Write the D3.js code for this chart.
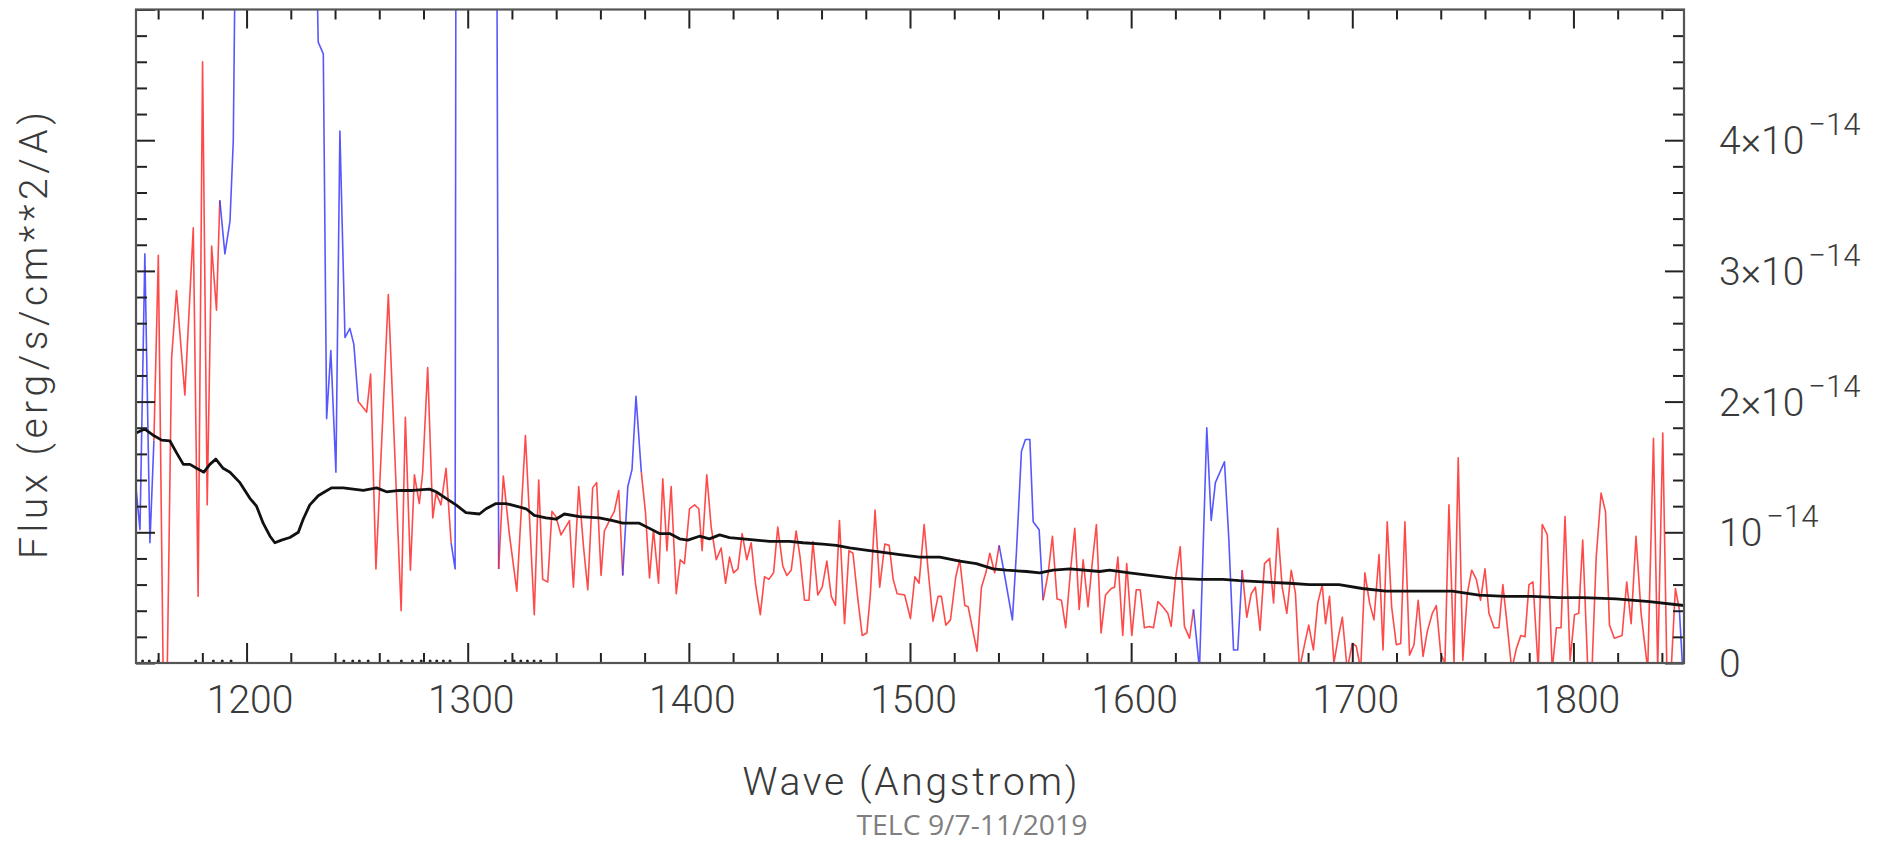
<!DOCTYPE html>
<html>
<head>
<meta charset="utf-8">
<script src="https://cdn.jsdelivr.net/npm/d3@7/dist/d3.min.js"></script>
<style>
  html, body { margin: 0; padding: 0; background: #fff; }
  svg { display: block; }
</style>
</head>
<body>
<svg id="chart" width="1886" height="845"></svg>
<script>
// ---------------- DATA (flux values in units of 1e-15 erg/s/cm^2/A) ----------------
const specWave = [
1150.0,1151.8,1154.0,1156.3,1158.1,1160.1,1162.3,1164.1,1166.1,1168.3,1172.1,1175.9,1178.1,1180.1,1182.2,1184.2,1186.4,1187.9,
1190.2,1192.5,1194.0,1195.2,1205.0,1220.0,1231.0,1232.4,1234.7,1236.2,1238.1,1240.4,1242.2,1244.5,1246.7,1248.5,1250.5,1254.3,
1256.1,1258.5,1264.1,1269.9,1271.8,1274.1,1275.9,1278.1,1279.6,1281.9,1284.2,1285.7,1287.9,1290.2,1292.5,1294.3,1294.7,1300.0,
1308.0,1313.1,1314.0,1316.1,1318.8,1322.2,1326.1,1328.3,1330.1,1332.1,1333.9,1336.2,1338.1,1339.9,1342.2,1346.0,1347.8,1350.2,
1352.3,1354.3,1356.5,1358.3,1360.3,1361.8,1364.1,1366.3,1368.3,1370.1,1372.4,1374.3,1376.1,1378.5,1380.4,1382.2,1384.0,1386.3,
1388.2,1390.1,1392.0,1394.3,1396.1,1398.0,1400.3,1402.6,1404.5,1406.0,1408.1,1410.1,1412.4,1414.6,1416.6,1418.4,1420.2,1422.2,
1424.1,1426.2,1428.2,1430.1,1432.3,1434.2,1436.2,1438.3,1440.2,1442.5,1444.3,1446.3,1448.5,1450.3,1452.3,1454.3,1456.1,1458.3,
1460.3,1462.4,1464.4,1466.3,1468.1,1470.4,1472.4,1474.2,1476.4,1478.4,1480.5,1482.1,1484.2,1486.3,1488.6,1490.6,1492.4,1494.2,
1497.6,1500.2,1502.2,1504.1,1506.4,1508.2,1510.4,1512.7,1514.2,1516.2,1518.3,1520.7,1522.5,1524.8,1526.3,1530.3,1532.3,1534.3,
1536.1,1538.3,1540.3,1542.9,1546.3,1548.1,1550.4,1552.2,1554.2,1555.7,1558.4,1560.2,1562.5,1564.4,1566.5,1568.5,1570.4,1572.6,
1574.5,1576.5,1578.3,1580.5,1582.5,1584.3,1586.4,1588.4,1591.0,1592.5,1594.0,1596.2,1598.0,1600.3,1602.3,1604.1,1606.0,1608.3,
1610.1,1612.1,1614.3,1616.6,1618.1,1620.0,1622.2,1624.1,1626.4,1628.2,1630.9,1634.2,1636.2,1638.1,1642.2,1644.2,1646.3,1648.2,
1650.2,1652.3,1654.3,1656.2,1658.3,1660.3,1662.6,1664.4,1666.3,1668.3,1670.4,1672.4,1674.3,1676.1,1678.4,1680.3,1682.4,1684.4,
1686.4,1687.9,1689.7,1691.7,1693.7,1695.5,1697.7,1700.0,1701.8,1703.8,1705.7,1707.8,1709.8,1712.1,1713.9,1715.8,1717.8,1719.9,
1721.9,1723.8,1725.9,1727.9,1729.8,1732.0,1733.9,1736.2,1738.0,1740.0,1741.9,1743.7,1746.0,1747.9,1750.0,1752.0,1754.0,1756.1,
1758.0,1760.0,1761.8,1764.1,1766.3,1768.1,1770.1,1772.1,1774.2,1776.2,1778.1,1779.9,1781.7,1784.1,1785.9,1788.2,1790.4,1792.3,
1794.4,1796.2,1798.5,1800.5,1802.4,1804.2,1806.5,1808.4,1810.3,1812.5,1814.5,1816.3,1818.5,1822.0,1824.1,1826.1,1828.3,1830.6,
1833.6,1836.2,1838.1,1840.4,1842.2,1844.2,1846.1,1847.9,1849.4,1850.0
];
const specFlux = [
13.4,10.2,31.3,9.2,17.0,31.2,-1,-1,23.3,28.5,20.5,33.3,5.1,46.0,12.1,31.9,27.0,35.4,
31.3,33.8,40.0,60,150,150,60,47.5,46.6,18.7,23.9,14.6,40.7,24.9,25.6,24.4,20.0,19.2,
22.1,7.2,28.2,4.0,18.8,7.1,14.4,12.2,14.5,22.6,11.1,13.0,12.1,14.9,9.2,7.2,60,150,
150,60,7.2,14.3,9.9,5.5,17.4,9.9,3.7,14.0,6.4,6.2,11.6,11.2,9.8,10.9,5.8,13.5,
9.0,5.6,13.4,13.8,6.7,10.1,10.9,11.6,13.2,6.7,13.5,14.8,20.4,14.6,11.5,6.5,10.2,6.1,
14.1,8.6,13.5,5.3,7.9,7.6,11.8,12.1,11.8,8.6,14.4,10.4,7.9,8.8,6.1,8.1,6.9,7.2,
9.9,7.9,9.2,6.1,3.7,6.6,6.4,6.9,10.4,7.4,6.7,7.1,10.1,8.1,4.8,4.8,9.3,5.2,
5.8,7.8,5.1,4.4,10.9,3.0,8.6,8.4,4.9,2.1,2.3,5.3,11.7,5.8,9.1,9.0,6.4,5.3,
5.2,3.4,6.6,6.1,10.6,7.1,3.2,5.1,5.1,2.9,3.3,6.6,7.9,4.4,4.3,0.9,5.8,6.9,
8.4,6.9,9.0,6.6,3.3,8.4,16.2,17.1,17.1,10.8,10.2,4.8,6.9,9.7,4.9,4.8,2.7,7.1,
10.3,4.1,7.9,4.3,7.8,10.6,2.3,5.2,5.7,5.8,8.1,2.1,7.6,2.1,5.6,5.6,2.7,2.8,
2.7,4.7,4.3,3.8,2.8,6.4,8.9,2.8,1.9,4.1,-0.5,18.0,10.9,13.8,15.4,9.4,1.0,1.0,
7.1,3.5,5.3,5.8,2.5,7.6,8.0,4.6,10.3,5.8,3.8,7.1,5.3,-0.5,1.4,2.9,1.0,4.6,
6.0,3.0,5.1,0,2.0,3.5,-0.5,1.5,1.3,-0.5,6.9,4.6,3.3,8.3,1.0,10.8,4.3,1.4,
1.5,10.8,0.6,1.4,4.8,0.5,2.4,3.8,4.4,0.7,0,12.1,0,15.7,0.2,5.3,7.1,6.4,
4.8,7.2,3.8,2.7,2.7,6.0,2.8,-0.5,1.1,2.1,2.0,6.0,6.2,-0.5,10.6,9.8,-0.5,2.7,
2.7,11.2,0.2,3.7,3.8,9.4,-0.5,-0.5,8.1,13.0,11.6,2.9,1.9,2.1,6.2,3.0,9.7,3.8,
-0.5,17.2,-0.5,17.6,0,-0.5,5.7,4.1,-0.5,-0.5
];
// wavelength windows drawn in blue (masked regions)
const maskWindows = [[1150,1158.1],[1187.9,1250.5],[1292.5,1314.0],[1370.1,1378.5],[1540.3,1560.2],[1628.2,1650.2],[1847.9,1850]];

const modelWave = [
1150.0,1154.0,1158.0,1161.6,1165.3,1168.3,1171.4,1174.4,1177.4,1180.7,1183.4,1186.1,1189.4,1192.5,1197.0,1201.5,1204.5,1207.5,
1210.6,1212.8,1215.8,1219.6,1223.4,1225.6,1228.6,1232.4,1235.4,1238.4,1243.7,1252.8,1258.8,1263.3,1269.1,1275.1,1282.7,1285.7,
1290.2,1294.7,1299.2,1305.3,1308.3,1312.8,1317.3,1321.9,1326.4,1330.1,1335.4,1339.9,1343.7,1350.5,1359.5,1365.6,1370.1,1377.6,
1382.2,1386.7,1391.3,1395.8,1399.5,1404.8,1409.3,1413.9,1418.4,1424.4,1430.4,1436.5,1445.5,1451.6,1460.6,1466.6,1472.7,1481.7,
1486.3,1495.4,1504.4,1513.5,1522.5,1530.0,1537.6,1543.6,1552.7,1558.7,1564.7,1572.3,1585.8,1590.2,1599.2,1608.3,1618.8,1630.9,
1641.5,1649.0,1659.5,1671.6,1680.6,1694.0,1704.5,1715.1,1730.1,1745.2,1757.3,1769.3,1781.4,1793.5,1804.2,1819.3,1834.4,1850.0
];
const modelFlux = [
17.6,17.9,17.4,17.05,17.0,16.1,15.2,15.2,14.9,14.6,15.2,15.6,14.9,14.6,13.8,12.6,12.0,10.7,
9.7,9.2,9.4,9.6,10.0,11.0,12.1,12.8,13.1,13.4,13.4,13.2,13.4,13.1,13.2,13.2,13.3,13.1,
12.6,12.1,11.5,11.4,11.8,12.2,12.2,12.0,11.8,11.3,11.1,11.0,11.4,11.2,11.1,10.9,10.7,10.7,
10.3,9.9,9.9,9.5,9.4,9.7,9.5,9.8,9.6,9.5,9.4,9.3,9.3,9.2,9.1,9.0,8.8,8.6,
8.5,8.3,8.1,8.1,7.8,7.6,7.2,7.1,7.0,6.9,7.1,7.2,7.0,7.1,6.9,6.7,6.5,6.4,
6.4,6.3,6.2,6.1,6.0,6.0,5.7,5.5,5.5,5.5,5.2,5.1,5.1,5.0,5.0,4.9,4.7,4.4
];
// small points sitting on the zero line
const zeroDotWave = [1153,1156,1160,1177,1185,1189,1193,1244,1248,1251,1255,1264,1270,1275,1279,1283,1286,1289,1292,1317,1321,1324,1327,1330,1333];
const zeroDotFlux = 0.15;

const fluxUnit = 1e-15;
const xDomain = [1150, 1850];
const yDomain = [0, 5e-14];
const xMajorTicks = [1200, 1300, 1400, 1500, 1600, 1700, 1800];
const xMinorStep = 20;
const yMinorStep = 2e-15;
const yLabelValues = [0, 1e-14, 2e-14, 3e-14, 4e-14];
const yLabelMantissa = ["0", "10", "2×10", "3×10", "4×10"];
const yLabelExponent = ["", "−14", "−14", "−14", "−14"];
const xTitle = "Wave (Angstrom)";
const yTitle = "Flux (erg/s/cm**2/A)";
const footnote = "TELC 9/7-11/2019";

// ---------------- CHART ----------------
const svg = d3.select("#chart");
const L = 136, R = 1684, T = 9.5, B = 663;
const x = d3.scaleLinear().domain(xDomain).range([L, R]);
const y = d3.scaleLinear().domain(yDomain).range([B, T]);

const labelFont = "Roboto, 'DejaVu Sans', sans-serif";
const labelColor = "#3a3a3a";

svg.append("defs").append("clipPath").attr("id", "plotclip")
  .append("rect").attr("x", L).attr("y", T).attr("width", R - L).attr("height", B - T);

// colored runs of the spectrum
const inMask = w => maskWindows.some(([a, b]) => w >= a && w <= b);
const pts = specWave.map((w, i) => [w, specFlux[i] * fluxUnit]);
const runs = [];
for (let i = 0; i < pts.length - 1; i++) {
  const blue = inMask((pts[i][0] + pts[i + 1][0]) / 2);
  const last = runs[runs.length - 1];
  if (last && last.blue === blue) last.pts.push(pts[i + 1]);
  else runs.push({ blue, pts: [pts[i], pts[i + 1]] });
}
const line = d3.line().x(d => x(d[0])).y(d => y(d[1]));
const gData = svg.append("g").attr("clip-path", "url(#plotclip)");
gData.selectAll("path.spec").data(runs).join("path")
  .attr("class", "spec")
  .attr("d", d => line(d.pts))
  .attr("fill", "none")
  .attr("stroke", d => d.blue ? "#3a3aff" : "#ff2a2a")
  .attr("stroke-width", 1.6)
  .attr("stroke-opacity", 0.85)
  .attr("stroke-linejoin", "round");

gData.append("path")
  .attr("d", line(modelWave.map((w, i) => [w, modelFlux[i] * fluxUnit])))
  .attr("fill", "none").attr("stroke", "#111").attr("stroke-width", 2.8)
  .attr("stroke-linejoin", "round");

gData.selectAll("circle.zd").data(zeroDotWave).join("circle")
  .attr("class", "zd")
  .attr("cx", d => x(d)).attr("cy", y(zeroDotFlux * fluxUnit)).attr("r", 1.5)
  .attr("fill", "#222");

// ticks via d3 axes
const yMinor = d3.range(0, 5e-14 + 1e-20, yMinorStep).map(v => +v.toPrecision(6)).filter(v => Math.abs(v / 1e-14 - Math.round(v / 1e-14)) > 1e-6);
const yMajor = [0, 1e-14, 2e-14, 3e-14, 4e-14, 5e-14];

function tickAxis(axis, transform) {
  const g = svg.append("g").attr("transform", transform).call(axis);
  g.select(".domain").remove();
  g.selectAll("line").attr("stroke", "#222").attr("stroke-width", 2);
  g.selectAll("text").remove();
  return g;
}
const xMinorVals = d3.range(1160, 1850, xMinorStep).filter(v => v % 100 !== 0);
tickAxis(d3.axisBottom(x).tickValues(xMinorVals).tickSize(-10).tickFormat(""), `translate(0,${B})`);
tickAxis(d3.axisBottom(x).tickValues(xMajorTicks).tickSize(-20).tickFormat(""), `translate(0,${B})`);
tickAxis(d3.axisTop(x).tickValues(xMinorVals).tickSize(-10).tickFormat(""), `translate(0,${T})`);
tickAxis(d3.axisTop(x).tickValues(xMajorTicks).tickSize(-19).tickFormat(""), `translate(0,${T})`);
tickAxis(d3.axisLeft(y).tickValues(yMinor).tickSize(-11).tickFormat(""), `translate(${L},0)`);
tickAxis(d3.axisLeft(y).tickValues(yMajor).tickSize(-19).tickFormat(""), `translate(${L},0)`);
tickAxis(d3.axisRight(y).tickValues(yMinor).tickSize(-11).tickFormat(""), `translate(${R},0)`);
tickAxis(d3.axisRight(y).tickValues(yMajor).tickSize(-19).tickFormat(""), `translate(${R},0)`);

// frame
svg.append("rect").attr("x", L).attr("y", T).attr("width", R - L).attr("height", B - T)
  .attr("fill", "none").attr("stroke", "#555").attr("stroke-width", 2.2);

// x tick labels
const gx = svg.append("g").attr("transform", `translate(0,${B})`)
  .call(d3.axisBottom(x).tickValues(xMajorTicks).tickSize(0).tickPadding(22).tickFormat(d3.format("d")));
gx.select(".domain").remove();
gx.selectAll("text").attr("font-family", labelFont).attr("font-weight", 300)
  .attr("font-size", 39).attr("fill", labelColor).attr("dx", 3);

// y tick labels on the right
const gy = svg.append("g");
yLabelValues.forEach((v, i) => {
  const t = gy.append("text")
    .attr("x", 1719).attr("y", y(v) + 14)
    .attr("font-family", labelFont).attr("font-weight", 300)
    .attr("font-size", 39).attr("fill", labelColor);
  t.append("tspan").text(yLabelMantissa[i]);
  if (yLabelExponent[i]) {
    t.append("tspan").attr("font-size", 31).attr("dy", -19).attr("dx", 4).text(yLabelExponent[i]);
  }
});

// axis titles
svg.append("text")
  .attr("x", 910).attr("y", 795).attr("text-anchor", "middle")
  .attr("font-family", labelFont).attr("font-weight", 300).attr("font-size", 39)
  .attr("fill", labelColor)
  .attr("textLength", 335).attr("lengthAdjust", "spacing")
  .text(xTitle);

svg.append("text")
  .attr("transform", "translate(47,335.5) rotate(-90)")
  .attr("text-anchor", "middle")
  .attr("font-family", labelFont).attr("font-weight", 300).attr("font-size", 39)
  .attr("fill", labelColor)
  .attr("textLength", 447).attr("lengthAdjust", "spacing")
  .text(yTitle);

// footnote
svg.append("text")
  .attr("x", 972).attr("y", 835).attr("text-anchor", "middle")
  .attr("font-family", "'Open Sans', 'Noto Sans', sans-serif").attr("font-size", 28)
  .attr("fill", "#7f7f7f")
  .attr("textLength", 231).attr("lengthAdjust", "spacingAndGlyphs")
  .text(footnote);
</script>
</body>
</html>
